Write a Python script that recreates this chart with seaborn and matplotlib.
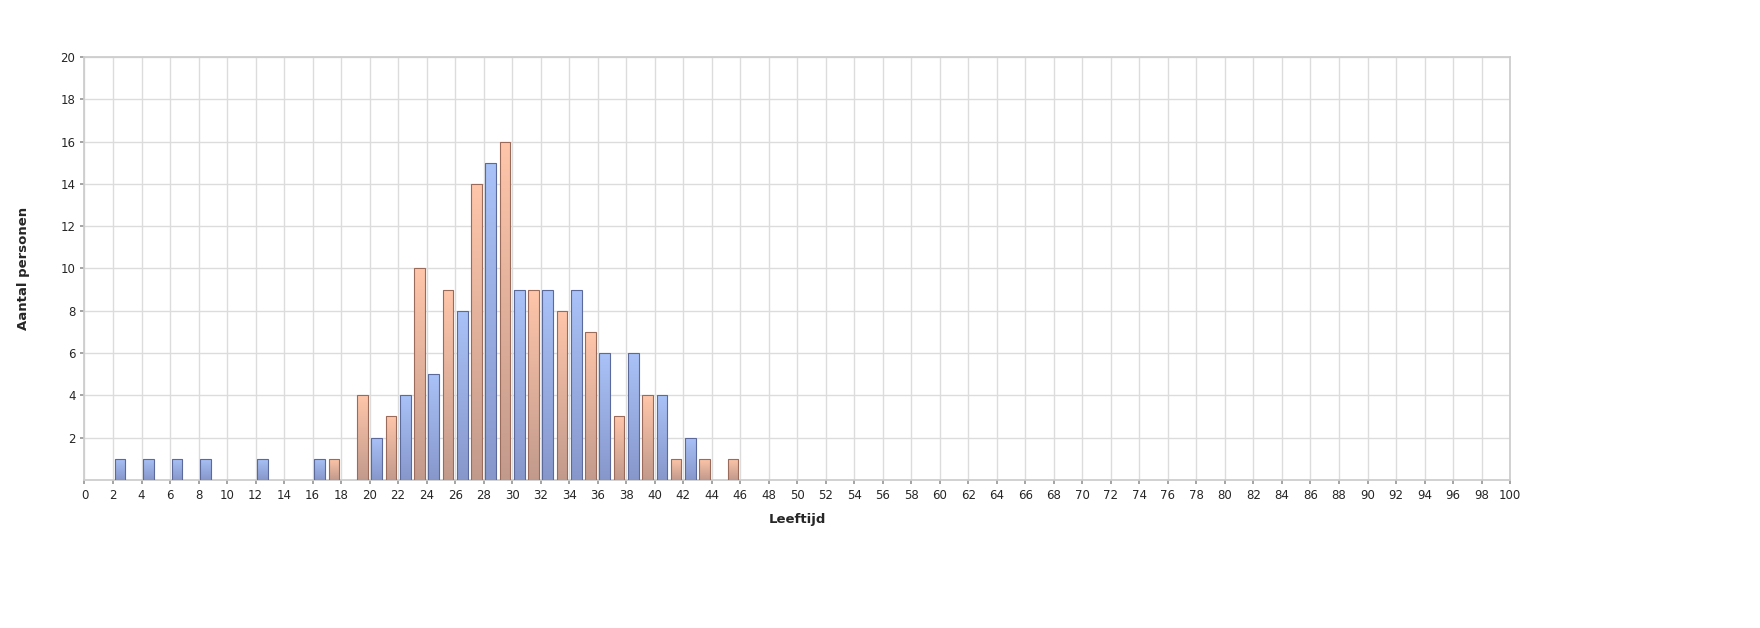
import numpy as np
import pandas as pd
import matplotlib
matplotlib.use('Agg')
import matplotlib.pyplot as plt
import seaborn as sns
from matplotlib.colors import LinearSegmentedColormap

# Data
blue_ages = [2, 4, 6, 8, 12, 16, 20, 22, 24, 26, 28, 30, 32, 34, 36, 38, 40, 42]
blue_counts = [1, 1, 1, 1, 1, 1, 2, 4, 5, 8, 15, 9, 9, 9, 6, 6, 4, 2]
orange_ages = [17, 19, 21, 23, 25, 27, 29, 31, 33, 35, 37, 39, 41, 43, 45]
orange_counts = [1, 4, 3, 10, 9, 14, 16, 9, 8, 7, 3, 4, 1, 1, 1]

sns.set_theme(style='white')
plt.rcParams['font.family'] = ['DejaVu Sans']

fig = plt.figure(figsize=(17.6, 6.28), dpi=100)
ax = fig.add_axes([0.048, 0.236, 0.81, 0.673])

df = pd.DataFrame({
    'age': np.array(blue_ages + orange_ages) + 0.5,
    'count': blue_counts + orange_counts,
    'grp': ['b'] * len(blue_ages) + ['o'] * len(orange_ages),
})
sns.barplot(data=df, x='age', y='count', hue='grp', native_scale=True, dodge=False,
            width=0.75, palette={'b': '#a6bdf2', 'o': '#fcc2a6'}, legend=False,
            edgecolor='#6a6a8a', linewidth=0.8, ax=ax, zorder=3)

cmaps = {
    'b': LinearSegmentedColormap.from_list('b', ['#8797cc', '#a9c2f7']),
    'o': LinearSegmentedColormap.from_list('o', ['#c29a8c', '#ffc6aa']),
}
grad = np.linspace(0, 1, 256).reshape(-1, 1)
for p in ax.patches:
    x0, y0 = p.get_x(), p.get_y()
    w, h = p.get_width(), p.get_height()
    if h <= 0:
        continue
    key = 'b' if abs((x0 + w / 2 - 0.5) % 2) < 0.1 else 'o'
    p.set_edgecolor('#5b6a9a' if key == 'b' else '#9a6a5a')
    im = ax.imshow(grad, extent=[x0, x0 + w, y0, y0 + h], origin='lower',
                   cmap=cmaps[key], aspect='auto', zorder=3.5)
    im.set_clip_path(p)
    p.set_zorder(4)
    p.set_facecolor('none')

ax.set_xlim(0, 100)
ax.set_ylim(0, 20)
ax.set_xticks(range(0, 101, 2))
ax.set_yticks(range(2, 21, 2))
ax.grid(True, color='#dcdcdc', linewidth=1, zorder=0)
ax.set_axisbelow(True)
for s in ax.spines.values():
    s.set_color('#cccccc')
ax.tick_params(labelsize=8.5, length=3, color='#999999', left=True, bottom=True)
ax.set_xlabel('Leeftijd', fontsize=9.5, fontweight='bold', labelpad=8)
ax.set_ylabel('Aantal personen', fontsize=9.5, fontweight='bold', labelpad=22)

fig.savefig('out.png', dpi=100)
